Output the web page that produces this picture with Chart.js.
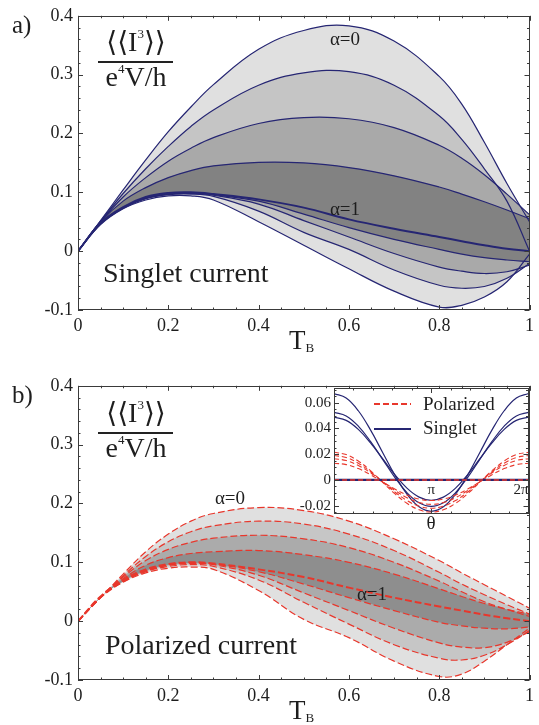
<!DOCTYPE html>
<html lang="en">
<head>
  <meta charset="UTF-8" />
  <title>Third cumulant: singlet and polarized current</title>
  <script src="https://cdn.jsdelivr.net/npm/chart.js"></script>
  <style>
    body {
      margin: 0;
      width: 539px;
      height: 725px;
      overflow: hidden;
      position: relative;
      background: #ffffff;
      color: #1e1e1e;
      font-family: 'Liberation Serif', 'DejaVu Serif', serif;
    }
    .box { position: absolute; }
    .t { position: absolute; white-space: nowrap; line-height: 1; }
    .c { transform: translateX(-50%); }
    .num { left: 96px; width: 80px; text-align: center; font-size: 28px; }
    .num sup { font-size: 13px; vertical-align: 13px; }
    .bar { position: absolute; left: 98px; width: 75px; height: 1.5px; background: #222; }
    .lab { font-size: 28px; }
    .tb { font-size: 27px; }
    .tb sub { font-size: 13px; vertical-align: -3px; }
    .key { position: absolute; left: 374px; width: 37px; height: 2px; }
  </style>
</head>
<body>
  <div class="box" style="left:0;top:0;width:539px;height:370px"><canvas id="panelA" width="539" height="370"></canvas></div>
  <div class="box" style="left:0;top:370px;width:539px;height:355px"><canvas id="panelB" width="539" height="355"></canvas></div>
  <div class="box" style="left:290px;top:376px;width:249px;height:160px"><canvas id="inset" width="249" height="160"></canvas></div>

  <!-- panel a texts -->
  <div class="t" style="left:12px;top:12px;font-size:25px">a)</div>
  <div class="t num" style="top:27px">&#10216;&#10216;I<sup>3</sup>&#10217;&#10217;</div>
  <div class="bar" style="top:61px"></div>
  <div class="t num" style="top:62px">e<sup>4</sup>V/h</div>
  <div class="t c" style="left:345px;top:29px;font-size:19px">&alpha;=0</div>
  <div class="t c" style="left:345px;top:199px;font-size:19px">&alpha;=1</div>
  <div class="t lab" style="left:103px;top:259px">Singlet current</div>
  <div class="t tb" style="left:289px;top:327px">T<sub>B</sub></div>

  <!-- panel b texts -->
  <div class="t" style="left:12px;top:382px;font-size:25px">b)</div>
  <div class="t num" style="top:398px">&#10216;&#10216;I<sup>3</sup>&#10217;&#10217;</div>
  <div class="bar" style="top:432px"></div>
  <div class="t num" style="top:433px">e<sup>4</sup>V/h</div>
  <div class="t c" style="left:230px;top:488px;font-size:19px">&alpha;=0</div>
  <div class="t c" style="left:372px;top:584px;font-size:19px">&alpha;=1</div>
  <div class="t lab" style="left:105px;top:631px">Polarized current</div>
  <div class="t tb" style="left:289px;top:697px">T<sub>B</sub></div>

  <!-- inset legend and axis label -->
  <div class="key" style="top:403px;background:repeating-linear-gradient(to right,#e8372c 0 6px,#ffffff 6px 9px)"></div>
  <div class="t" style="left:423px;top:394px;font-size:19px">Polarized</div>
  <div class="key" style="top:428px;height:1.5px;background:#262673"></div>
  <div class="t" style="left:423px;top:418px;font-size:19px">Singlet</div>
  <div class="t c" style="left:431px;top:513px;font-size:19px">&theta;</div>

  <script>
    // transmission of the beam splitter, shared by both panels
    const tB = [0, 0.05, 0.1, 0.15, 0.2, 0.25, 0.3, 0.4, 0.5, 0.6, 0.7, 0.8, 0.85, 0.9, 0.95, 1];

    // a) singlet current: upper / lower edges for alpha = 0, 0.25, 0.5, 0.75 and the alpha = 1 curve
    const sU0 = [0, 0.052, 0.104, 0.155, 0.203, 0.245, 0.283, 0.343, 0.375, 0.383, 0.357, 0.297, 0.25, 0.185, 0.115, 0.05];
    const sU1 = [0, 0.051, 0.098, 0.14, 0.178, 0.212, 0.24, 0.282, 0.303, 0.305, 0.282, 0.23, 0.19, 0.14, 0.085, 0.0];
    const sU2 = [0, 0.05, 0.092, 0.125, 0.153, 0.175, 0.193, 0.217, 0.227, 0.225, 0.21, 0.18, 0.158, 0.13, 0.097, 0.062];
    const sU3 = [0, 0.05, 0.085, 0.108, 0.125, 0.137, 0.145, 0.151, 0.15, 0.142, 0.128, 0.109, 0.097, 0.084, 0.07, 0.055];
    const sA1 = [0, 0.048, 0.075, 0.092, 0.099, 0.1, 0.097, 0.088, 0.074, 0.054, 0.038, 0.024, 0.017, 0.01, 0.004, 0];
    const sL3 = [0, 0.047, 0.074, 0.09, 0.098, 0.099, 0.096, 0.085, 0.063, 0.04, 0.02, 0.003, -0.005, -0.011, -0.015, -0.018];
    const sL2 = [0, 0.047, 0.074, 0.09, 0.097, 0.098, 0.095, 0.08, 0.052, 0.024, -0.004, -0.027, -0.034, -0.038, -0.035, -0.024];
    const sL1 = [0, 0.046, 0.073, 0.089, 0.096, 0.097, 0.093, 0.068, 0.032, 0.003, -0.032, -0.058, -0.063, -0.06, -0.046, -0.021];
    const sL0 = [0, 0.045, 0.072, 0.087, 0.094, 0.094, 0.087, 0.05, 0.01, -0.03, -0.068, -0.095, -0.092, -0.078, -0.052, -0.005];

    // b) polarized current, same layout
    const pU0 = [0, 0.04, 0.08, 0.118, 0.148, 0.17, 0.183, 0.193, 0.188, 0.17, 0.14, 0.103, 0.082, 0.062, 0.042, 0.022];
    const pU1 = [0, 0.04, 0.077, 0.11, 0.135, 0.152, 0.162, 0.17, 0.165, 0.148, 0.12, 0.083, 0.063, 0.045, 0.028, 0.012];
    const pU2 = [0, 0.04, 0.075, 0.103, 0.122, 0.134, 0.141, 0.146, 0.14, 0.125, 0.1, 0.068, 0.05, 0.033, 0.02, 0.008];
    const pU3 = [0, 0.04, 0.072, 0.095, 0.108, 0.115, 0.118, 0.12, 0.113, 0.1, 0.08, 0.055, 0.042, 0.03, 0.02, 0.012];
    const pA1 = [0, 0.042, 0.07, 0.088, 0.097, 0.1, 0.098, 0.088, 0.075, 0.057, 0.04, 0.025, 0.018, 0.011, 0.005, 0];
    const pL3 = [0, 0.041, 0.068, 0.086, 0.096, 0.099, 0.097, 0.084, 0.063, 0.04, 0.018, -0.002, -0.008, -0.012, -0.013, -0.01];
    const pL2 = [0, 0.041, 0.068, 0.085, 0.095, 0.098, 0.096, 0.078, 0.048, 0.018, -0.012, -0.037, -0.044, -0.045, -0.036, -0.018];
    const pL1 = [0, 0.041, 0.067, 0.084, 0.093, 0.096, 0.093, 0.07, 0.032, -0.005, -0.04, -0.063, -0.066, -0.058, -0.04, -0.016];
    const pL0 = [0, 0.04, 0.066, 0.082, 0.09, 0.092, 0.088, 0.052, 0.003, -0.028, -0.068, -0.094, -0.09, -0.068, -0.04, -0.012];

    // inset: theta in units of pi
    const thetaPi = [0, 0.125, 0.25, 0.375, 0.5, 0.625, 0.75, 0.875, 1, 1.125, 1.25, 1.375, 1.5, 1.625, 1.75, 1.875, 2];
    const inS1 = [0.0672, 0.0637, 0.0538, 0.0389, 0.0214, 0.0039, -0.011, -0.0209, -0.0244, -0.0209, -0.011, 0.0039, 0.0214, 0.0389, 0.0538, 0.0637, 0.0672];
    const inS2 = [0.0526, 0.0498, 0.0419, 0.03, 0.016, 0.002, -0.0099, -0.0178, -0.0206, -0.0178, -0.0099, 0.002, 0.016, 0.03, 0.0419, 0.0498, 0.0526];
    const inS3 = [0.0488, 0.0463, 0.0393, 0.0288, 0.0165, 0.0041, -0.0064, -0.0134, -0.0159, -0.0134, -0.0064, 0.0041, 0.0165, 0.0288, 0.0393, 0.0463, 0.0488];
    const inP1 = [0.0215, 0.0197, 0.0147, 0.0072, -0.0018, -0.0107, -0.0182, -0.0232, -0.025, -0.0232, -0.0182, -0.0107, -0.0018, 0.0072, 0.0147, 0.0197, 0.0215];
    const inP2 = [0.019, 0.0174, 0.013, 0.0064, -0.0015, -0.0094, -0.016, -0.0204, -0.022, -0.0204, -0.016, -0.0094, -0.0015, 0.0064, 0.013, 0.0174, 0.019];
    const inP3 = [0.0165, 0.0151, 0.0113, 0.0056, -0.0013, -0.0081, -0.0138, -0.0176, -0.019, -0.0176, -0.0138, -0.0081, -0.0013, 0.0056, 0.0113, 0.0151, 0.0165];
    const inP4 = [0.013, 0.0119, 0.0088, 0.0041, -0.0015, -0.0071, -0.0118, -0.0149, -0.016, -0.0149, -0.0118, -0.0071, -0.0015, 0.0041, 0.0088, 0.0119, 0.013];
    const thetaEnds = [0, 2];
    const inZero = [0, 0];

    // ticks
    const mainXTicks = [0, 0.2, 0.4, 0.6, 0.8, 1];
    const mainXLabels = ['0', '0.2', '0.4', '0.6', '0.8', '1'];
    const mainYTicks = [-0.1, 0, 0.1, 0.2, 0.3, 0.4];
    const mainYLabels = ['-0.1', '0', '0.1', '0.2', '0.3', '0.4'];
    const insetXTicks = [1, 2];
    const insetXLabels = ['\u03c0', '2\u03c0'];
    const insetYTicks = [-0.02, 0, 0.02, 0.04, 0.06];
    const insetYLabels = ['-0.02', '0', '0.02', '0.04', '0.06'];

    const navy = '#262673';
    const red = '#e8372c';

    Chart.defaults.font.family = "'Liberation Serif', 'DejaVu Serif', serif";
    Chart.defaults.color = '#1e1e1e';

    // frame with inward ticks on all four sides, like the original plot
    const frameTicks = {
      id: 'frameTicks',
      beforeDraw(chart, args, o) {
        if (!o.white) return;
        const a = chart.chartArea;
        chart.ctx.save();
        chart.ctx.fillStyle = '#ffffff';
        chart.ctx.fillRect(a.left, a.top, a.width, a.height);
        chart.ctx.restore();
      },
      afterDraw(chart, args, o) {
        const ctx = chart.ctx, a = chart.chartArea, x = chart.scales.x, y = chart.scales.y;
        const steps = (s, step) => {
          const out = [];
          for (let v = Math.ceil(s.min / step - 1e-9) * step; v <= s.max + 1e-9; v += step) out.push(v);
          return out;
        };
        const major = (v, step) => Math.abs(v / step - Math.round(v / step)) < 1e-6;
        ctx.save();
        ctx.strokeStyle = '#3a3a3a';
        ctx.lineWidth = 1;
        ctx.beginPath();
        steps(x, o.xMinor).forEach(v => {
          const px = Math.round(x.getPixelForValue(v)) + 0.5;
          const len = major(v, o.xMajor) ? 5 : 2.5;
          ctx.moveTo(px, a.bottom); ctx.lineTo(px, a.bottom - len);
          ctx.moveTo(px, a.top); ctx.lineTo(px, a.top + len);
        });
        steps(y, o.yMinor).forEach(v => {
          const py = Math.round(y.getPixelForValue(v)) + 0.5;
          const len = major(v, o.yMajor) ? 5 : 2.5;
          ctx.moveTo(a.left, py); ctx.lineTo(a.left + len, py);
          ctx.moveTo(a.right, py); ctx.lineTo(a.right - len, py);
        });
        ctx.stroke();
        ctx.strokeRect(Math.round(a.left) + 0.5, Math.round(a.top) + 0.5, Math.round(a.width) - 1, Math.round(a.height) - 1);
        ctx.restore();
      }
    };
    Chart.register(frameTicks);

    function pts(xs, ys) {
      return xs.map((x, i) => ({ x: x, y: ys[i] }));
    }

    function line(xs, ys, color, extra) {
      return Object.assign({
        data: pts(xs, ys), borderColor: color, borderWidth: 1.2,
        pointRadius: 0, tension: 0.4, fill: false
      }, extra || {});
    }

    // datasets listed inner band first: the last dataset is painted first
    function bandSets(upper, lower, alpha1, color, dash, greys) {
      const sets = [line(tB, alpha1, color, { borderWidth: 2, borderDash: dash })];
      upper.forEach((u, k) => {
        sets.push(line(tB, u, color, {
          borderDash: dash, backgroundColor: greys[k],
          fill: { target: '+1', above: greys[k], below: greys[k] }
        }));
        sets.push(line(tB, lower[k], color, { borderDash: dash }));
      });
      return sets;
    }

    function mainOptions(topPad, xHeight) {
      return {
        responsive: false,
        animation: false,
        layout: { padding: { top: topPad, right: 7, left: 0, bottom: 0 } },
        plugins: {
          legend: { display: false },
          tooltip: { enabled: false },
          filler: { drawTime: 'beforeDatasetsDraw' },
          frameTicks: { xMinor: 0.05, xMajor: 0.2, yMinor: 0.02, yMajor: 0.1 }
        },
        scales: {
          x: {
            type: 'linear', min: 0, max: 1,
            grid: { display: false, drawTicks: false }, border: { display: false },
            afterBuildTicks: s => { s.ticks = mainXTicks.map(v => ({ value: v })); },
            afterFit: s => { s.height = xHeight; },
            ticks: { callback: (v, i) => mainXLabels[i], font: { size: 18 }, padding: 5, autoSkip: false, maxRotation: 0 }
          },
          y: {
            type: 'linear', min: -0.1, max: 0.4,
            grid: { display: false, drawTicks: false }, border: { display: false },
            afterBuildTicks: s => { s.ticks = mainYTicks.map(v => ({ value: v })); },
            afterFit: s => { s.width = 78; },
            ticks: { callback: (v, i) => mainYLabels[i], font: { size: 18 }, padding: 5, autoSkip: false }
          }
        }
      };
    }

    new Chart(document.getElementById('panelA'), {
      type: 'line',
      data: {
        datasets: bandSets([sU3, sU2, sU1, sU0], [sL3, sL2, sL1, sL0], sA1, navy, [],
          ['#828282', '#a9a9a9', '#c5c5c5', '#e0e0e0'])
      },
      options: mainOptions(15, 60)
    });

    new Chart(document.getElementById('panelB'), {
      type: 'line',
      data: {
        datasets: bandSets([pU3, pU2, pU1, pU0], [pL3, pL2, pL1, pL0], pA1, red, [7, 3],
          ['#8e8e8e', '#ababab', '#c6c6c6', '#e0e0e0'])
      },
      options: mainOptions(15, 45)
    });

    const insetTickFont = { size: 15 };
    new Chart(document.getElementById('inset'), {
      type: 'line',
      data: {
        datasets: [
          line(thetaEnds, inZero, red, { borderWidth: 1.4, borderDash: [5, 3] }),
          line(thetaEnds, inZero, navy, { borderWidth: 2.2 }),
          line(thetaPi, inP1, red, { borderWidth: 1.1, borderDash: [5, 3] }),
          line(thetaPi, inP2, red, { borderWidth: 1.1, borderDash: [5, 3] }),
          line(thetaPi, inP3, red, { borderWidth: 1.1, borderDash: [5, 3] }),
          line(thetaPi, inP4, red, { borderWidth: 1.1, borderDash: [5, 3] }),
          line(thetaPi, inS1, navy, { borderWidth: 1.2 }),
          line(thetaPi, inS2, navy, { borderWidth: 1.2 }),
          line(thetaPi, inS3, navy, { borderWidth: 1.2 })
        ]
      },
      options: {
        responsive: false,
        animation: false,
        layout: { padding: { top: 10.5, right: 10.5, left: 0, bottom: 22 } },
        plugins: {
          legend: { display: false },
          tooltip: { enabled: false },
          frameTicks: { white: true, xMinor: 0.2, xMajor: 1, yMinor: 0.005, yMajor: 0.02 }
        },
        scales: {
          x: {
            type: 'linear', min: 0, max: 2, position: { y: 0 },
            grid: { display: false, drawTicks: false }, border: { display: false },
            afterBuildTicks: s => { s.ticks = [{ value: insetXTicks[0] }]; },
            ticks: { callback: () => insetXLabels[0], font: insetTickFont, padding: 1, autoSkip: false, maxRotation: 0 }
          },
          x2: {
            type: 'linear', min: 0, max: 2, position: { y: 0 },
            grid: { display: false, drawTicks: false }, border: { display: false },
            afterBuildTicks: s => { s.ticks = [{ value: insetXTicks[1] }]; },
            ticks: { callback: () => insetXLabels[1], font: insetTickFont, padding: 1, align: 'end', autoSkip: false, maxRotation: 0 }
          },
          y: {
            type: 'linear', min: -0.0265, max: 0.0715,
            grid: { display: false, drawTicks: false }, border: { display: false },
            afterBuildTicks: s => { s.ticks = insetYTicks.map(v => ({ value: v })); },
            afterFit: s => { s.width = 44; },
            ticks: { callback: (v, i) => insetYLabels[i], font: insetTickFont, padding: 3, autoSkip: false }
          }
        }
      }
    });
  </script>
</body>
</html>
